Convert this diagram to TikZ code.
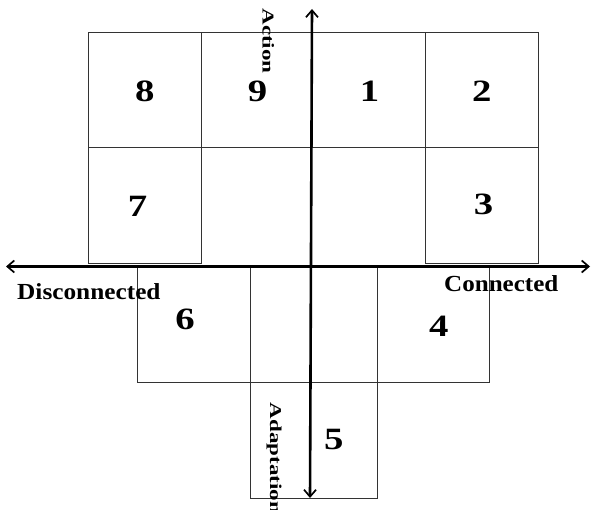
\documentclass[tikz,border=0pt]{standalone}
\usepackage{fontspec}
\setmainfont{Liberation Serif}
\usetikzlibrary{arrows.meta}
\tikzset{
  cell/.style={draw=black!80, line width=0.9pt},
  axis/.style={line width=2.6pt, {Straight Barb[length=7pt,width=12pt,line width=1.7pt]}-{Straight Barb[length=7pt,width=12pt,line width=1.7pt]}},
  num/.style={inner sep=0pt, font=\fontsize{31}{31}\selectfont\bfseries},
  lab/.style={inner sep=0pt, font=\fontsize{23}{23}\selectfont\bfseries},
}
\newcommand{\wide}[1]{\scalebox{1.25}[1]{#1}}
\begin{document}
\begin{tikzpicture}[x=1pt,y=-1pt]
\useasboundingbox (0,0) rectangle (591,510);
% top grid
\draw[cell] (88.3,32.3) rectangle (201,147.7);
\draw[cell] (201,32.3) rectangle (312,147.7);
\draw[cell] (312,32.3) rectangle (425.3,147.7);
\draw[cell] (425.3,32.3) rectangle (538,147.7);
\draw[cell] (88.3,147.7) rectangle (201,263.3);
\draw[cell] (425.3,147.7) rectangle (538,263.3);
% bottom blocks
\draw[cell] (137.3,267) rectangle (489.3,382.3);
\draw[cell] (250,267) -- (250,382.3);
\draw[cell] (377.3,267) -- (377.3,382.3);
\draw[cell] (250,382.3) rectangle (377.3,498.3);
% axes
\coordinate (L) at (6,266.5);
\coordinate (R) at (590,266.5);
\coordinate (T) at (312,9);
\coordinate (B) at (310,498);
\draw[axis] (L) -- (R);
\draw[axis] (B) -- (T);
% numbers
\node[num] (n8) at (144.7,91) {\wide{8}};
\node[num] (n9) at (257.5,91) {\wide{9}};
\node[num] (n1) at (369.5,91) {\wide{1}};
\node[num] (n2) at (481.7,91) {\wide{2}};
\node[num] (n7) at (137.5,206) {\wide{7}};
\node[num] (n3) at (483.5,204) {\wide{3}};
\node[num] (n6) at (185,319) {\wide{6}};
\node[num] (n4) at (438.7,325.8) {\wide{4}};
\node[num] (n5) at (333.8,439.2) {\wide{5}};
% labels
\node[lab, anchor=base west] (dis) at (17,299.3) {\scalebox{1.1}[1]{Disconnected}};
\node[lab, anchor=base west] (con) at (444,291.7) {\scalebox{1.09}[1]{Connected}};
\node[lab, anchor=base west, rotate=-90] (act) at (262.7,8.3) {\scalebox{1}[0.72]{Action}};
\node[lab, anchor=base west, rotate=-90] (ada) at (270,402.7) {\scalebox{1}[0.72]{Adaptation}};
\end{tikzpicture}
\end{document}
